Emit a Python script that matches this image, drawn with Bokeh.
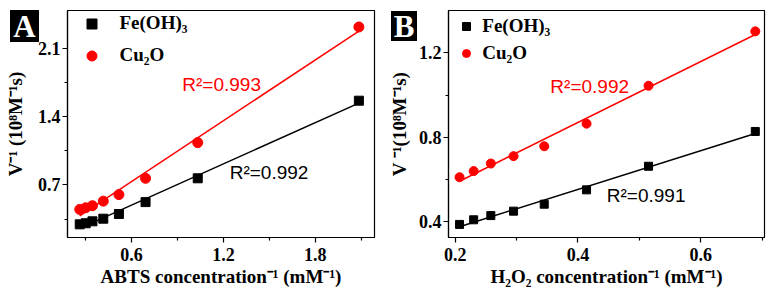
import numpy as np
from bokeh.plotting import figure
from bokeh.layouts import row
from bokeh.models import Legend, LegendItem, Label, FixedTicker, Range1d, Div
from bokeh.embed import file_html
from bokeh.resources import INLINE

# ---------------- data ----------------
# Panel A: ABTS
a_x = [0.261, 0.300, 0.344, 0.415, 0.517, 0.691, 1.032, 2.085]
a_fe = [0.296, 0.307, 0.327, 0.354, 0.402, 0.524, 0.768, 1.564]
a_cu = [0.449, 0.466, 0.487, 0.534, 0.601, 0.768, 1.134, 2.320]
a_xticks = [0.6, 1.2, 1.8]
a_xminor = [0.3, 0.9, 1.5, 2.1]
a_yticks = [0.7, 1.4, 2.1]
a_yminor = [0.35, 1.05, 1.75]
a_r2 = ["R²=0.992", "R²=0.993"]

# Panel B: H2O2
b_x = [0.207, 0.230, 0.258, 0.295, 0.345, 0.414, 0.515, 0.689]
b_fe = [0.386, 0.408, 0.428, 0.449, 0.482, 0.550, 0.662, 0.827]
b_cu = [0.610, 0.639, 0.675, 0.710, 0.757, 0.864, 1.044, 1.302]
b_xticks = [0.2, 0.4, 0.6]
b_xminor = [0.3, 0.5, 0.7]
b_yticks = [0.4, 0.8, 1.2]
b_yminor = [0.6, 1.0]
b_r2 = ["R²=0.991", "R²=0.992"]

series_names = ["Fe(OH)₃", "Cu₂O"]
panel_letters = ["A", "B"]

SERIF = "Liberation Serif"
SANS = "Liberation Sans"


def make_panel(width, xr, yr, mb, xs, fe, cu, xt, xm, yt, ym, xlabel, ylabel,
               r2, r2pos, sizes, leg):
    p = figure(width=width, height=291, x_range=Range1d(*xr), y_range=Range1d(*yr),
               output_backend="svg", toolbar_location=None,
               min_border_left=mb[0], min_border_right=mb[1],
               min_border_top=mb[2], min_border_bottom=mb[3])
    p.grid.visible = False
    p.outline_line_color = "black"
    p.outline_line_width = 1.2
    p.background_fill_color = "white"
    p.border_fill_color = "white"
    for ax in p.axis:
        ax.axis_line_width = 1.2
        ax.axis_line_color = "black"
        ax.major_tick_out = 5
        ax.major_tick_in = 0
        ax.minor_tick_out = 3
        ax.minor_tick_in = 0
        ax.major_tick_line_width = 1.2
        ax.minor_tick_line_width = 1.2
        ax.major_label_text_font = SERIF
        ax.major_label_text_font_style = "bold"
        ax.major_label_text_font_size = "18px"
        ax.major_label_text_color = "black"
        ax.axis_label_text_font = SERIF
        ax.axis_label_text_font_style = "bold"
        ax.axis_label_text_font_size = "19px"
        ax.axis_label_text_color = "black"
    p.xaxis.ticker = FixedTicker(ticks=xt, minor_ticks=xm)
    p.yaxis.ticker = FixedTicker(ticks=yt, minor_ticks=ym)
    p.xaxis.axis_label = xlabel
    p.yaxis.axis_label = ylabel
    p.xaxis.major_label_standoff = 5
    p.xaxis.axis_label_standoff = 2
    p.yaxis.major_label_standoff = 2
    p.yaxis.axis_label_standoff = leg["ylab_standoff"]

    xarr = np.array(xs)
    xfit = np.array([xarr.min(), xarr.max()])
    k1, b1 = np.polyfit(xarr, np.array(fe), 1)
    k2, b2 = np.polyfit(xarr, np.array(cu), 1)
    p.line(xfit, k1 * xfit + b1, line_color="black", line_width=1.5)
    p.line(xfit, k2 * xfit + b2, line_color="red", line_width=1.5)
    r1 = p.scatter(xs, fe, marker="square", size=sizes[0], color="black")
    r2r = p.scatter(xs, cu, marker="circle", size=sizes[1], color="red")

    legend = Legend(items=[LegendItem(label=series_names[0], renderers=[r1]),
                           LegendItem(label=series_names[1], renderers=[r2r])],
                    location=leg["loc"], border_line_color=None,
                    background_fill_alpha=0, padding=0, margin=0,
                    spacing=leg["spacing"], glyph_width=leg["glyph"],
                    glyph_height=leg["glyph"], label_height=leg["glyph"],
                    label_standoff=leg["standoff"], label_text_font=SERIF,
                    label_text_font_style="bold", label_text_font_size="19px",
                    label_text_color="black")
    p.add_layout(legend)

    p.add_layout(Label(x=r2pos[0][0], y=r2pos[0][1], text=r2[0], text_font=SANS,
                       text_font_size="19px", text_color="black",
                       text_baseline="middle", text_align="left"))
    p.add_layout(Label(x=r2pos[1][0], y=r2pos[1][1], text=r2[1], text_font=SANS,
                       text_font_size="19px", text_color="red",
                       text_baseline="middle", text_align="left"))
    return p


pA = make_panel(383, (0.181, 2.187), (0.161, 2.489), (67, 9, 10, 52),
                a_x, a_fe, a_cu, a_xticks, a_xminor, a_yticks, a_yminor,
                "ABTS concentration⁻¹ (mM⁻¹)", "V⁻¹ (10⁸M⁻¹s)", a_r2,
                [(1.241, 0.829), (0.931, 1.727)], (9, 10),
                dict(loc=(11.5, 169.5), spacing=7, glyph=25, standoff=16,
                     ylab_standoff=9))

pB = make_panel(390, (0.189, 0.704), (0.324, 1.401), (65, 9, 10, 54),
                b_x, b_fe, b_cu, b_xticks, b_xminor, b_yticks, b_yminor,
                "H₂O₂ concentration⁻¹ (mM⁻¹)", "V ⁻¹(10⁸M⁻¹s)", b_r2,
                [(0.447, 0.523), (0.355, 1.041)], (8, 9),
                dict(loc=(8.3, 172.8), spacing=5, glyph=20, standoff=6,
                     ylab_standoff=6))

# panel letters: white bold letters in black boxes, overlaid at the top-left
box_css = ("position:absolute;background:#000;color:#fff;"
           "font-family:'Liberation Serif',serif;font-weight:bold;"
           "font-size:31px;text-align:center;")
letters_html = (
    f'<div style="{box_css}left:5px;top:5px;width:29px;height:32px;'
    f'line-height:33px;">{panel_letters[0]}</div>'
    f'<div style="{box_css}left:386px;top:6px;width:26px;height:30px;'
    f'line-height:31px;">{panel_letters[1]}</div>'
)
letters = Div(text=letters_html, width=0, height=0,
              styles={"position": "absolute", "left": "0px", "top": "0px",
                      "z-index": "100", "overflow": "visible"})

layout = row(letters, pA, pB)
open("out.html", "w").write(file_html(layout, INLINE))
